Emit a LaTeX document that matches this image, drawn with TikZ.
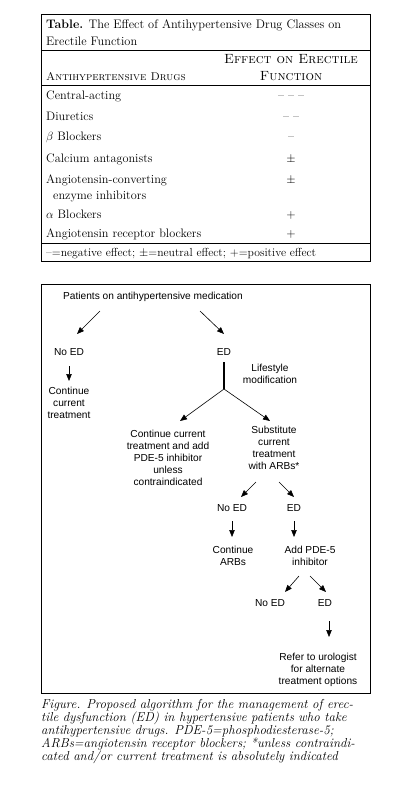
\documentclass[tikz,border=0pt]{standalone}
\usepackage{fontspec}
\newfontfamily\flowfont{Liberation Sans}
\usetikzlibrary{arrows.meta}
\begin{document}
\begin{tikzpicture}[x=1bp,y=-1bp,
  tab/.style={inner sep=0pt,font=\fontsize{12.3}{14}\selectfont},
  tabl/.style={tab,anchor=base west},
  tabc/.style={tab,anchor=base},
  sc/.style={inner sep=0pt,anchor=base,font=\fontsize{13.4}{15}\selectfont\scshape},
  fl/.style={inner sep=0pt,align=center,font=\flowfont\fontsize{10.2}{12}\selectfont},
  arr/.style={line width=0.6bp,-{Triangle[length=7bp,width=5.5bp]}},
  rule/.style={line width=0.8bp}]
\useasboundingbox (0,0) rectangle (418,785);
% ---- table ----
\draw[rule] (41,14) rectangle (370,261);
\draw[rule] (41,50) -- (370,50);
\draw[rule] (41,85) -- (370,85);
\draw[rule] (41,243) -- (370,243);
\node[tabl,font=\fontsize{12.4}{15}\selectfont] (t1) at (46,29) {\textbf{Table.} The Effect of Antihypertensive Drug Classes on};
\node[tabl,font=\fontsize{12.4}{15}\selectfont] (t2) at (46,46) {Erectile Function};
\node[sc] (h1) at (291,64) {Effect on Erectile};
\node[sc] (h2) at (291,80.5) {Function};
\node[sc,anchor=base west,font=\fontsize{11.3}{15}\selectfont\scshape] (h3) at (46,80.5) {Antihypertensive Drugs};
\node[tabl] (r1) at (46,99.5) {Central-acting};
\node[tabl] (r2) at (46,120.5) {Diuretics};
\node[tabl] (r3) at (46,140.5) {$\beta$ Blockers};
\node[tabl] (r4) at (46,162.5) {Calcium antagonists};
\node[tabl] (r5) at (46,183.5) {Angiotensin-converting};
\node[tabl] (r5b) at (53,199.5) {enzyme inhibitors};
\node[tabl] (r6) at (46,218.5) {$\alpha$ Blockers};
\node[tabl] (r7) at (46,237.5) {Angiotensin receptor blockers};
\node[tabc] (e1) at (291,99.5) {-- -- --};
\node[tabc] (e2) at (291,120.5) {-- --};
\node[tabc] (e3) at (291,140.5) {--};
\node[tabc] (e4) at (291,162.5) {$\pm$};
\node[tabc] (e5) at (291,183.5) {$\pm$};
\node[tabc] (e6) at (291,218.5) {+};
\node[tabc] (e7) at (291,237.5) {+};
\node[tabl,font=\fontsize{11.7}{13}\selectfont] (fn) at (46,256.5) {--=negative effect; $\pm$=neutral effect; +=positive effect};
% ---- figure ----
\draw[rule] (41,284) rectangle (370,693);
\node[fl] (pat) at (153,297) {Patients on antihypertensive medication};
\node[fl] (noed1) at (69,352) {No ED};
\node[fl] (ed1) at (224,352) {ED};
\node[fl] (cont1) at (69,403) {Continue\\current\\treatment};
\node[fl] (life) at (270,374) {Lifestyle\\modification};
\node[fl] (contadd) at (168,458) {Continue current\\treatment and add\\PDE-5 inhibitor\\unless\\contraindicated};
\node[fl] (subst) at (274,448) {Substitute\\current\\treatment\\with ARBs*};
\node[fl] (noed2) at (232,508) {No ED};
\node[fl] (ed2) at (294,508) {ED};
\node[fl] (contarb) at (233,556) {Continue\\ARBs};
\node[fl] (addpde) at (310,556) {Add PDE-5\\inhibitor};
\node[fl] (noed3) at (270,603) {No ED};
\node[fl] (ed3) at (325,603) {ED};
\node[fl] (refer) at (318,670) {Refer to urologist\\for alternate\\treatment options};
% connector end points
\coordinate (a1s) at (100,311); \coordinate (a1e) at (77,334);
\coordinate (a2s) at (200,311); \coordinate (a2e) at (224,334);
\coordinate (a3s) at (69,366);  \coordinate (a3e) at (69,381);
\coordinate (ls) at (224,362);  \coordinate (fork) at (224,389);
\coordinate (a4e) at (180,421); \coordinate (a5e) at (270,421);
\coordinate (a6s) at (256,482); \coordinate (a6e) at (241,497);
\coordinate (a7s) at (279,482); \coordinate (a7e) at (294,497);
\coordinate (a8s) at (232,521); \coordinate (a8e) at (232,537);
\coordinate (a9s) at (294,521); \coordinate (a9e) at (294,537);
\coordinate (a10s) at (299,576); \coordinate (a10e) at (285,592);
\coordinate (a11s) at (310,576); \coordinate (a11e) at (326,592);
\coordinate (a12s) at (329,621); \coordinate (a12e) at (329,637);
\draw[arr] (a1s) -- (a1e);
\draw[arr] (a2s) -- (a2e);
\draw[arr] (a3s) -- (a3e);
\draw[line width=1.6bp] (ls) -- (fork);
\draw[arr] (fork) -- (a4e);
\draw[arr] (fork) -- (a5e);
\draw[arr] (a6s) -- (a6e);
\draw[arr] (a7s) -- (a7e);
\draw[arr] (a8s) -- (a8e);
\draw[arr] (a9s) -- (a9e);
\draw[arr] (a10s) -- (a10e);
\draw[arr] (a11s) -- (a11e);
\draw[arr] (a12s) -- (a12e);
% ---- caption ----
\node[inner sep=0pt,anchor=north west,align=left,font=\itshape\fontsize{13}{13.2}\selectfont] (cap) at (41,699)
{Figure. Proposed algorithm for the management of erec-\\
tile dysfunction (ED) in hypertensive patients who take\\
antihypertensive drugs. PDE-5=phosphodiesterase-5;\\
ARBs=angiotensin receptor blockers; *unless contraindi-\\
cated and/or current treatment is absolutely indicated};
\end{tikzpicture}
\end{document}
